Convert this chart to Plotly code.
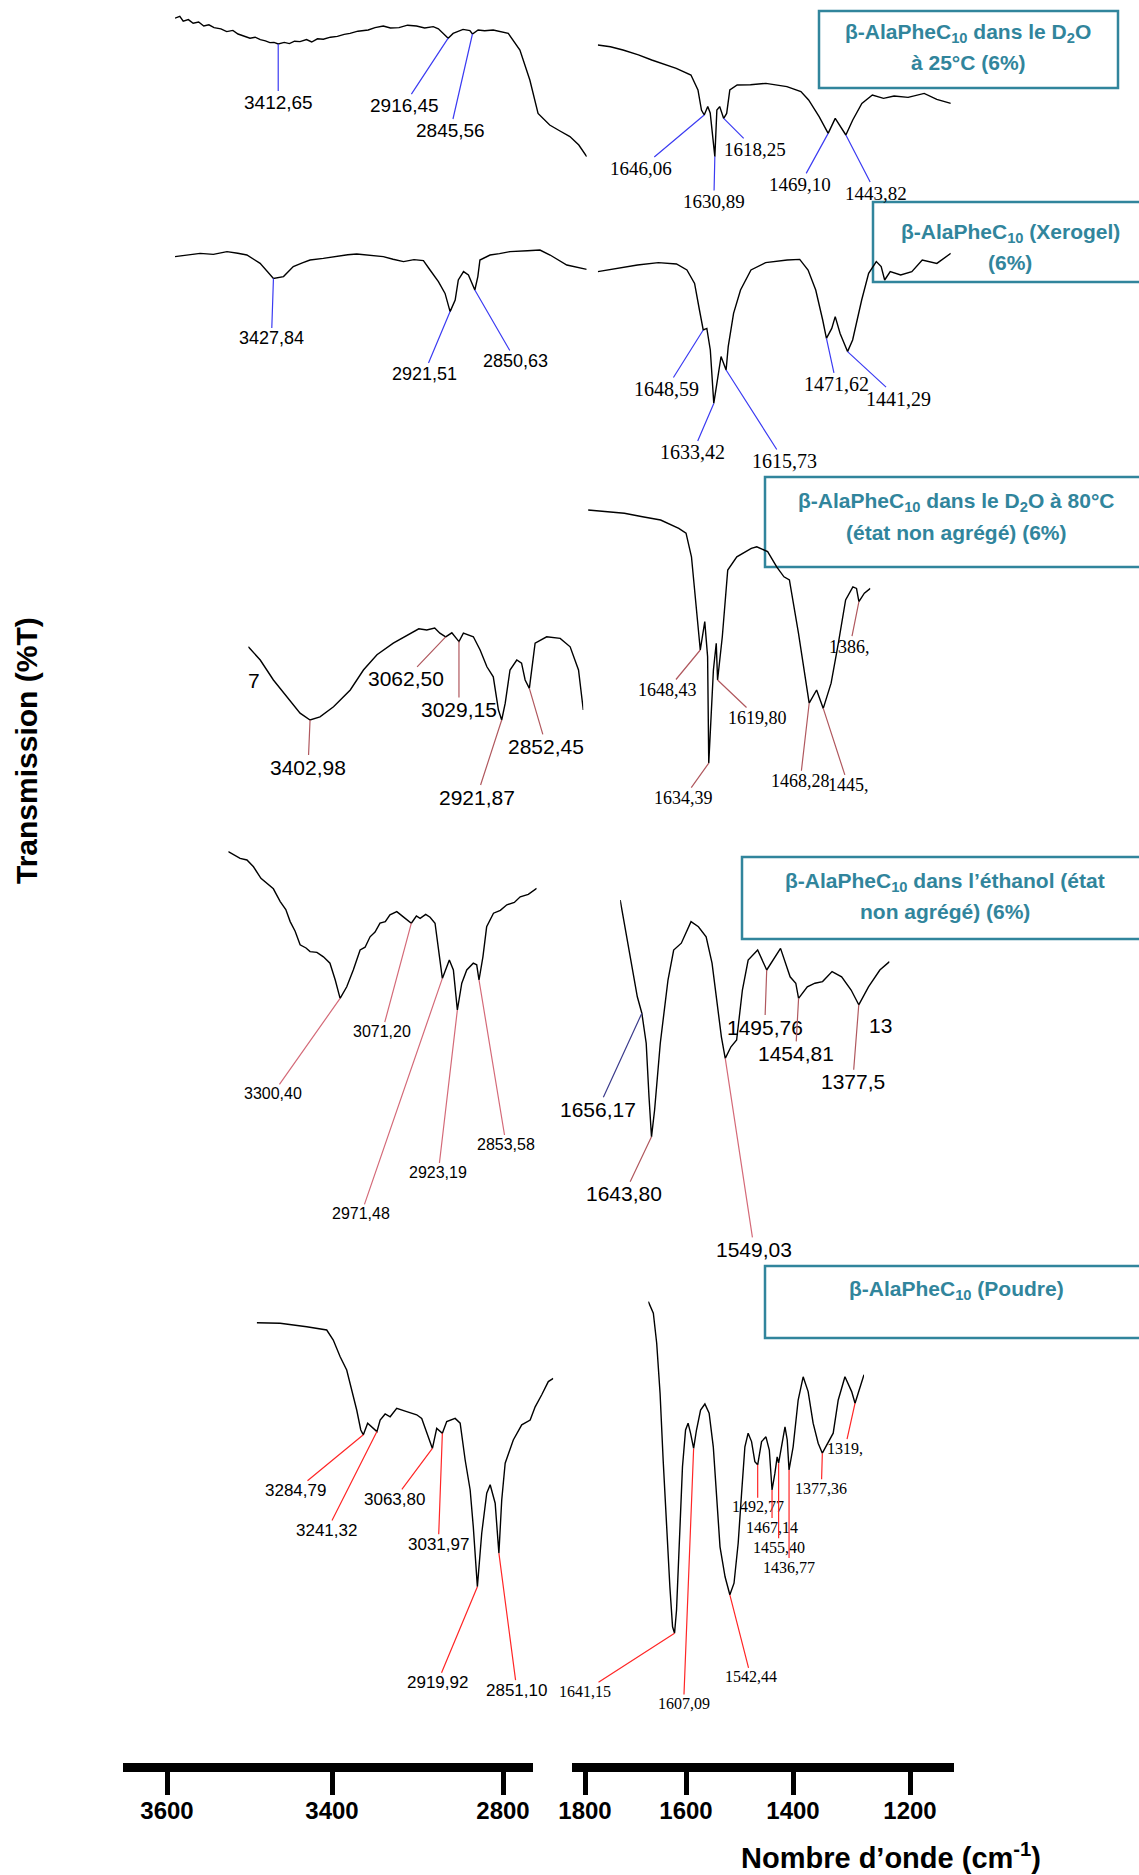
import numpy as np
import plotly.graph_objects as go

W, H = 1139, 1875

# ---------------- spectra: wavenumber (cm-1) and transmission (%T, arbitrary) ----------------
# Panel 1 : D2O 25 °C
p1l_wn = [3714, 3700, 3690, 3675, 3661, 3645, 3630, 3615, 3600, 3580, 3563, 3545, 3530, 3510, 3495, 3480, 3465, 3450, 3437, 3425, 3412.65,
          3395, 3380, 3365, 3349, 3330, 3315, 3298, 3281, 3260, 3240, 3220, 3203, 3180, 3150, 3130, 3106, 3085, 3060, 3035, 3009, 2985,
          2960, 2945, 2931, 2916.45, 2902, 2873, 2853, 2845.56, 2829, 2810, 2785, 2765, 2741, 2707, 2678, 2654, 2620, 2590, 2561, 2535, 2512]
p1l_t = [90.9, 91.8, 89.4, 90.2, 88.4, 89.0, 87.0, 87.6, 86.2, 85.6, 84.2, 84.8, 83.0, 82.0, 80.9, 81.4, 80.2, 79.6, 78.7, 78.8, 78.0,
         78.8, 78.2, 79.4, 79.2, 80.2, 79.0, 80.6, 80.4, 81.4, 81.8, 82.8, 83.3, 84.4, 85.0, 86.2, 87.0, 86.0, 86.2, 87.4, 87.0, 86.0,
         86.7, 85.6, 83.3, 80.9, 83.3, 85.3, 84.7, 83.0, 85.0, 84.6, 85.0, 84.4, 83.3, 75.0, 60.0, 43.3, 37.5, 34.5, 31.7, 27.5, 21.7]
p1r_wn = [1798, 1780, 1762, 1740, 1721, 1700, 1686, 1665, 1655, 1650, 1646.06, 1641, 1637.5, 1630.89, 1628, 1624, 1618.25, 1614, 1609.5, 1599,
          1580, 1558, 1540, 1528, 1508, 1497, 1482, 1469.10, 1459, 1443.82, 1434, 1421, 1406, 1390, 1375, 1355, 1332, 1314, 1294]
p1r_t = [77.5, 76.6, 75, 72.6, 70, 67.4, 65.8, 62.5, 55, 45, 42.5, 46.7, 43.5, 21.7, 45, 46.7, 40.8, 43.3, 55, 57.5,
         57.6, 58.3, 57.2, 56.7, 54.2, 50, 41.7, 33.3, 40.8, 32.5, 40, 48.3, 52.5, 50.8, 52, 51.3, 53.3, 50.3, 48.3]

# Panel 2 : xerogel
p2l_wn = [3710, 3675, 3638, 3600, 3561, 3530, 3504, 3466, 3442, 3427.84, 3399, 3371, 3345, 3323, 3285, 3246, 3215, 3189, 3150, 3113, 3085, 3055,
          3025, 2998, 2979, 2955, 2936, 2921.51, 2907, 2898, 2883, 2869, 2850.63, 2842, 2836, 2807, 2780, 2750, 2700, 2664, 2635, 2587, 2530]
p2l_t = [81.7, 82.6, 83.3, 82.8, 84.2, 83.4, 82.5, 78.3, 73.3, 70.8, 71.7, 76.7, 78.6, 80, 80.8, 82, 82.6, 83, 82.2, 81.7, 80.4, 79.2,
         80.2, 79.7, 75, 69.2, 63.3, 54.2, 60, 70, 74.2, 72.5, 65, 71.7, 80, 82.5, 83.2, 84.2, 84.6, 85, 82.5, 77.5, 75.3]
p2r_wn = [1800, 1774, 1743, 1713, 1687, 1672, 1661, 1654, 1648.59, 1643.4, 1638.4, 1633.42, 1628, 1623, 1615.73, 1612.7, 1605, 1595, 1580, 1559,
          1528, 1510, 1498, 1487, 1477, 1471.62, 1464, 1459, 1452, 1441.29, 1434, 1421, 1411, 1400, 1393, 1388, 1380, 1365, 1349, 1334, 1313, 1293]
p2r_t = [74.2, 75.8, 77.5, 78.7, 78, 75, 68.3, 55, 45, 45.8, 35, 8.3, 21.7, 31.7, 25, 36.7, 53.3, 65, 75, 78.7,
         80, 80.3, 75, 65, 50, 40.8, 45.8, 51.7, 43.3, 34.2, 40, 60, 73.3, 79.2, 76.7, 70, 74.2, 72.5, 74.2, 80, 78.3, 83.3]

# Panel 3 : D2O 80 °C
p3l_wn = [3558, 3528, 3495, 3461, 3428, 3402.98, 3378, 3344, 3302, 3269, 3235, 3194, 3152, 3130, 3110, 3090, 3077, 3062.5, 3047, 3029.15, 3018, 2993,
          2976, 2959, 2943, 2930, 2921.87, 2913, 2901, 2884, 2872, 2863, 2852.45, 2846, 2838, 2809, 2775, 2750, 2729, 2717]
p3l_t = [58.3, 55, 50, 45.8, 41.7, 40, 40.8, 43.3, 47.5, 52.5, 56.3, 59.2, 61.5, 62.8, 62.5, 63.0, 61.7, 60.8, 61.8, 59.6, 61.7, 60.8,
         57.5, 53.3, 50.8, 42.5, 40, 44.2, 52.5, 55, 54.2, 50, 47.9, 53.3, 59.2, 60.8, 60.4, 58.3, 52.5, 42.5]
p3r_wn = [1834, 1804, 1774, 1744, 1714, 1684, 1672, 1663, 1655.5, 1648.43, 1641, 1636.3, 1634.39, 1626.7, 1622, 1619.8, 1612, 1603, 1588, 1564,
          1555, 1537, 1522, 1510, 1501, 1486, 1468.28, 1456, 1445, 1432, 1420, 1408, 1396, 1390, 1386, 1377, 1367]
p3r_t = [92.5, 92.1, 91.7, 90.8, 90, 87.9, 86.7, 80.8, 69.2, 57.5, 64.6, 55.8, 29.2, 52.5, 59.2, 50, 60.8, 77.5, 80.8, 82.9,
         83.3, 82.1, 78.3, 75.8, 75, 61.7, 44.2, 47.5, 42.9, 49.2, 59.2, 70, 73.3, 72.9, 69.6, 71.7, 72.9]

# Panel 4 : ethanol
p4l_wn = [3660, 3645, 3622, 3600, 3579, 3555, 3536, 3515, 3493, 3475, 3461, 3445, 3429, 3410, 3397, 3375, 3354, 3333, 3316, 3300.4,
          3279, 3258, 3236, 3220, 3204, 3188, 3172, 3155, 3140, 3118, 3091, 3071.2, 3055, 3043, 3025, 3011, 2995, 2984, 2971.48, 2949,
          2936, 2923.19, 2909, 2893, 2872, 2861, 2853.58, 2841, 2829, 2807, 2785, 2764, 2740, 2721, 2695, 2668]
p4l_t = [97.1, 96.4, 95.4, 95.0, 93.3, 90.4, 89.2, 87.8, 84.6, 82.6, 79.6, 77.2, 73.8, 73.0, 72.1, 71.9, 70.8, 69.2, 65, 60.4,
         63.3, 67.5, 72.5, 73.2, 75.8, 77.0, 79.2, 79.6, 81.3, 82.1, 80.4, 79.2, 81.0, 80.4, 81.4, 80.7, 79.2, 73.3, 65.4, 70,
         67.5, 57.5, 64.2, 67.5, 69.2, 68.8, 65, 70.8, 78.3, 81.7, 82.4, 83.8, 84.4, 85.8, 86.4, 87.9]
p4r_wn = [1684, 1677, 1669, 1662, 1656.17, 1650.6, 1647, 1643.8, 1639.8, 1632.5, 1622.6, 1615.3, 1605.5, 1593, 1583.5, 1573.6, 1566, 1559, 1554, 1549.03,
          1541.7, 1534.4, 1527, 1519.6, 1507.4, 1495.76, 1478, 1465.7, 1458.4, 1454.81, 1443.6, 1433.8, 1424, 1411.8, 1399.5, 1387.3, 1377.5, 1365, 1350.4, 1338]
p4r_t = [85, 77.5, 69.2, 60.8, 56.7, 49.2, 35.8, 25.8, 32.5, 49.2, 65, 72.5, 74.2, 79.6, 78.3, 75.8, 69.2, 59.2, 50.8, 45.4,
         48.3, 50, 62.5, 70, 72.5, 67.5, 72.9, 65.8, 64.2, 60.4, 63.3, 64.2, 64.6, 67.1, 65.8, 62.5, 58.8, 63.3, 67.5, 69.6]

# Panel 5 : powder
p5l_wn = [3626, 3551, 3466, 3402, 3381, 3359, 3338, 3322, 3306, 3293, 3284.79, 3271, 3258, 3241.32, 3231, 3215, 3199, 3178, 3146, 3114,
          3098, 3082, 3063.8, 3050, 3031.97, 3018, 2991, 2975, 2959, 2943, 2933, 2919.92, 2906, 2890, 2879, 2863, 2851.1, 2842, 2831, 2805,
          2778, 2751, 2735, 2714, 2693, 2677]
p5l_t = [94.3, 94.2, 93.3, 92.5, 90, 85.8, 82.5, 77.5, 72.5, 67.5, 66.3, 69.2, 68.3, 67.1, 70, 71.5, 70.8, 72.9, 72.1, 71.3,
         70.4, 66.7, 62.9, 67.9, 66.7, 69.6, 70.4, 69.2, 60, 52.5, 43.3, 28.3, 41.7, 51.7, 53.8, 49.2, 36.7, 50, 59.2, 65,
         68.8, 70, 73.3, 76.3, 79.6, 80.4]
p5r_wn = [1688, 1679, 1673, 1667, 1661.5, 1655.4, 1649.5, 1644.7, 1641.15, 1637.6, 1633, 1627, 1621.5, 1617, 1612.6, 1607.09, 1602, 1594.7, 1587, 1579.4,
          1572, 1566, 1560, 1551, 1542.44, 1535, 1527.6, 1521.5, 1515.6, 1509.8, 1503.7, 1497.8, 1492.77, 1485.8, 1478, 1472, 1467.14, 1462, 1458, 1455.4,
          1450, 1444, 1440, 1436.77, 1429.5, 1420.5, 1411.6, 1402.7, 1393.8, 1384.8, 1377.36, 1367, 1358, 1349, 1337, 1325, 1319, 1311.6, 1303]
p5r_t = [99.6, 96.7, 89.2, 76.7, 60, 43.3, 28.3, 18.3, 16.7, 22.5, 39.2, 58.3, 67.5, 69.2, 66.7, 62.9, 67.5, 72.5, 74, 71.7,
         63.3, 50, 38.3, 30.8, 26.3, 29.2, 39.2, 51.7, 63.3, 66.7, 64.6, 59.6, 58.8, 64.6, 65.8, 62.5, 52.5, 56.7, 60.8, 59.2,
         63.3, 68.3, 65, 57.5, 63.3, 75, 80.8, 77.1, 69.2, 64.2, 61.7, 64.2, 66.7, 75, 80.8, 77.1, 74.2, 77.5, 81.3]

# ---------------- labelled peaks ----------------
p1l_peaks = [3412.65, 2916.45, 2845.56]
p1r_peaks = [1646.06, 1630.89, 1618.25, 1469.10, 1443.82]
p2l_peaks = [3427.84, 2921.51, 2850.63]
p2r_peaks = [1648.59, 1633.42, 1615.73, 1471.62, 1441.29]
p3l_peaks = [3402.98, 3062.50, 3029.15, 2921.87, 2852.45]
p3r_peaks = [1648.43, 1634.39, 1619.80, 1468.28, 1445.0, 1386.0]
p3r_labels = ["1648,43", "1634,39", "1619,80", "1468,28", "1445,", "1386,"]
p4l_peaks = [3300.40, 3071.20, 2971.48, 2923.19, 2853.58]
p4r_peaks = [1656.17, 1643.80, 1549.03, 1495.76, 1454.81, 1377.5]
p4r_labels = ["1656,17", "1643,80", "1549,03", "1495,76", "1454,81", "1377,5"]
p5l_peaks = [3284.79, 3241.32, 3063.80, 3031.97, 2919.92, 2851.10]
p5r_peaks = [1641.15, 1607.09, 1542.44, 1492.77, 1467.14, 1455.40, 1436.77, 1377.36, 1319.0]
p5r_labels = ["1641,15", "1607,09", "1542,44", "1492,77", "1467,14", "1455,40", "1436,77", "1377,36", "1319,"]

# ---------------- texts ----------------
sample_lines = [
    ["β-AlaPheC<sub>10</sub> dans le D<sub>2</sub>O", "à 25°C (6%)"],
    ["β-AlaPheC<sub>10</sub> (Xerogel)", "(6%)"],
    ["β-AlaPheC<sub>10</sub> dans le D<sub>2</sub>O à 80°C", "(état non agrégé) (6%)"],
    ["β-AlaPheC<sub>10</sub> dans l’éthanol (état", "non agrégé) (6%)"],
    ["β-AlaPheC<sub>10</sub> (Poudre)"],
]
left_tick_labels = ["3600", "3400", "2800"]
right_tick_labels = ["1800", "1600", "1400", "1200"]
x_title = "Nombre d’onde (cm<sup>-1</sup>)"
y_title = "Transmission (%T)"


def fmt(v):
    return f"{v:.2f}".replace(".", ",")


# ---------------- layout constants (pixels) ----------------
SANS = "Liberation Sans, Arial, sans-serif"
SERIF = "Liberation Serif, Times New Roman, serif"
TEAL = "#31859C"
BLUE = "#3b3bf2"
BROWN = "#b0585e"
PINK = "#d46a78"
NAVY = "#3c3c8c"
RED = "#ff2626"

bands = {1: (0, 200), 2: (220, 420), 3: (480, 880), 4: (840, 1240), 5: (1300, 1700)}

spectra = [
    # wn, t, panel, px-left, px-right, peaks, labels, offsets, colors, font
    (p1l_wn, p1l_t, 1, 175.0, 586.7, p1l_peaks, None, [(0, 58), (-44, 67), (-22, 96)], BLUE, (SANS, 19)),
    (p1r_wn, p1r_t, 1, 597.8, 950.8, p1r_peaks, None, [(-63, 53), (-1, 45), (31, 31), (-28, 51), (30, 58)], BLUE, (SERIF, 19)),
    (p2l_wn, p2l_t, 2, 175.0, 586.7, p2l_peaks, None, [(-2, 60), (-26, 62), (41, 71)], BLUE, (SANS, 18)),
    (p2r_wn, p2r_t, 2, 597.8, 950.8, p2r_peaks, None, [(-37, 59), (-21, 49), (58, 91), (10, 46), (51, 47)], BLUE, (SERIF, 20)),
    (p3l_wn, p3l_t, 3, 248.3, 583.3, p3l_peaks, None, [(-2, 47), (-40, 42), (0, 68), (-25, 77), (17, 58)], BROWN, (SANS, 21)),
    (p3r_wn, p3r_t, 3, 588.1, 870.4, p3r_peaks, p3r_labels, [(-33, 40), (-25, 35), (40, 38), (-9, 78), (25, 77), (-9, 45)], BROWN, (SERIF, 18)),
    (p4l_wn, p4l_t, 4, 228.3, 536.7, p4l_peaks, None, [(-67, 95), (-29, 108), (-81, 235), (-19, 162), (27, 164)], PINK, (SANS, 16)),
    (p4r_wn, p4r_t, 4, 620.2, 889.5, p4r_peaks, p4r_labels, [(-44, 96), (-27, 57), (29, 191), (-2, 57), (-3, 55), (-6, 77)],
     [NAVY, BROWN, PINK, BROWN, BROWN, BROWN], (SANS, 21)),
    (p5l_wn, p5l_t, 5, 256.7, 553.3, p5l_peaks, None, [(-68, 56), (-50, 99), (-38, 51), (-4, 111), (-40, 96), (18, 137)], RED, (SANS, 17)),
    (p5r_wn, p5r_t, 5, 648.3, 864.0, p5r_peaks, p5r_labels,
     [(-90, 58), (-10, 255), (21, 82), (0, 42), (0, 37), (0, 84), (0, 97), (-1, 35), (-10, 45)], RED, (SERIF, 16)),
]

fig = go.Figure()
layout = dict(width=W, height=H, autosize=False, margin=dict(l=0, r=0, t=0, b=0, pad=0, autoexpand=False),
              paper_bgcolor="white", plot_bgcolor="rgba(0,0,0,0)", showlegend=False)
annotations = []
shapes = []


def yname(i):
    return "y" if i == 1 else f"y{i}"


def xname(i):
    return "x" if i == 1 else f"x{i}"


for panel, (top, bot) in bands.items():
    key = "yaxis" if panel == 1 else f"yaxis{panel}"
    layout[key] = dict(domain=[1 - bot / H, 1 - top / H], range=[0, 100], visible=False, fixedrange=True, automargin=False)

for i, (wn, t, panel, x0, x1, peaks, labels, offsets, colors, (fam, size)) in enumerate(spectra, start=1):
    xa, ya = xname(i), yname(panel)
    layout["xaxis" if i == 1 else f"xaxis{i}"] = dict(domain=[x0 / W, x1 / W], range=[wn[0], wn[-1]],
                                                       visible=False, anchor=ya, fixedrange=True, automargin=False)
    fig.add_trace(go.Scatter(x=wn, y=t, xaxis=xa, yaxis=ya, mode="lines",
                             line=dict(color="black", width=1.4), hoverinfo="skip"))
    wn_a = np.array(wn, dtype=float)[::-1]
    t_a = np.array(t, dtype=float)[::-1]
    if labels is None:
        labels = [fmt(p) for p in peaks]
    if isinstance(colors, str):
        colors = [colors] * len(peaks)
    for p, lab, (ax, ay), col in zip(peaks, labels, offsets, colors):
        annotations.append(dict(xref=xa, yref=ya, x=p, y=float(np.interp(p, wn_a, t_a)), text=lab,
                                showarrow=True, arrowhead=0, arrowwidth=1.2, arrowcolor=col,
                                ax=ax, ay=ay, standoff=0, borderpad=0,
                                font=dict(family=fam, size=size, color="black")))

# clipped label fragments from the original pasted spectra
annotations.append(dict(xref="paper", yref="paper", x=246 / W, y=1 - 681 / H, text="7", showarrow=False,
                        font=dict(family=SANS, size=21, color="black")))
annotations.append(dict(xref="paper", yref="paper", x=867 / W, y=1 - 1025 / H, text="13", showarrow=False,
                        xanchor="left", font=dict(family=SANS, size=21, color="black")))

# ---------------- sample boxes ----------------
boxes = [(819, 1118, 11, 88), (873, 1160, 202, 282), (765, 1160, 477, 567), (742, 1160, 857, 939), (765, 1160, 1266, 1338)]
text_pos = [(968, [33, 62]), (1010, [233, 263]), (956, [502, 532]), (945, [882, 912]), (956, [1290])]
for (bx0, bx1, by0, by1), (cx, ys), lines in zip(boxes, text_pos, sample_lines):
    shapes.append(dict(type="rect", xref="paper", yref="paper", x0=bx0 / W, x1=bx1 / W, y0=1 - by1 / H, y1=1 - by0 / H,
                       line=dict(color=TEAL, width=2.5), fillcolor="rgba(0,0,0,0)", layer="below"))
    for ln, yy in zip(lines, ys):
        annotations.append(dict(xref="paper", yref="paper", x=cx / W, y=1 - yy / H, text=ln, showarrow=False,
                                xanchor="center", yanchor="middle",
                                font=dict(family=SANS, size=21, color=TEAL, weight="bold")))

# ---------------- broken bottom axis ----------------
left_tick_px = [167, 332, 503]
right_tick_px = [585, 686, 793, 910]
axis_y_top = 1763
layout["yaxis6"] = dict(domain=[1 - axis_y_top / H, 1 - (axis_y_top - 40) / H], range=[0, 1], visible=False,
                        fixedrange=True, automargin=False)
tickfont = dict(family=SANS, size=24, color="black", weight="bold")
for key, (a0, a1), tpx, ttx in [("xaxis11", (123, 533), left_tick_px, left_tick_labels),
                                 ("xaxis12", (572, 954), right_tick_px, right_tick_labels)]:
    layout[key] = dict(domain=[a0 / W, a1 / W], range=[a0, a1], anchor="y6", side="bottom",
                       showline=True, linewidth=9, linecolor="black", showgrid=False, zeroline=False,
                       ticks="outside", ticklen=23, tickwidth=5, tickcolor="black", automargin=False,
                       tickvals=tpx, ticktext=ttx, tickfont=tickfont, fixedrange=True, ticklabelstandoff=-5)
    fig.add_trace(go.Scatter(x=[], y=[], xaxis=key.replace("axis", ""), yaxis="y6", mode="lines", hoverinfo="skip"))

annotations.append(dict(xref="paper", yref="paper", x=891 / W, y=1 - 1856 / H, text=x_title, showarrow=False,
                        xanchor="center", yanchor="middle", font=dict(family=SANS, size=29, color="black", weight="bold")))
annotations.append(dict(xref="paper", yref="paper", x=26 / W, y=1 - 751 / H, text=y_title, showarrow=False,
                        textangle=-90, xanchor="center", yanchor="middle",
                        font=dict(family=SANS, size=30, color="black", weight="bold")))

layout["annotations"] = annotations
layout["shapes"] = shapes
fig.update_layout(**layout)

fig.write_html("out.html", config={"displayModeBar": False, "responsive": False},
               post_script="document.body.style.margin='0';document.body.style.overflow='hidden';")
